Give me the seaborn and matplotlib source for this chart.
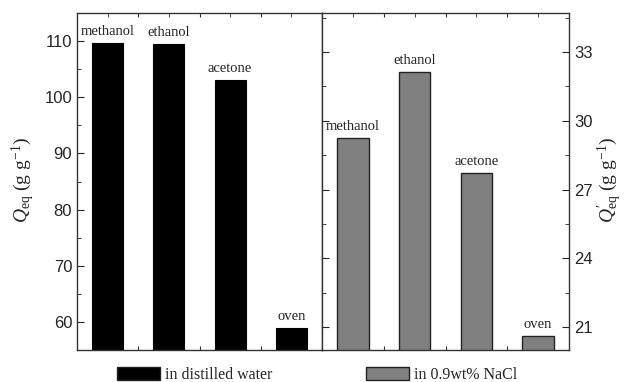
import numpy as np
import pandas as pd
import seaborn as sns
import matplotlib.pyplot as plt
from matplotlib.patches import Patch
from matplotlib.ticker import MultipleLocator, FixedLocator

# data
drying = ['methanol', 'ethanol', 'acetone', 'oven']
q_water = [109.6, 109.5, 103.0, 58.9]      # Q_eq in distilled water
q_saline = [29.23, 32.11, 27.72, 20.59]    # Q'_eq in 0.9wt% NaCl

sns.set_style('ticks')
plt.rcParams['font.family'] = ['Liberation Sans', 'DejaVu Sans']
plt.rcParams['mathtext.fontset'] = 'custom'
plt.rcParams['mathtext.rm'] = 'Liberation Serif'
plt.rcParams['mathtext.it'] = 'Liberation Serif:italic'

df_w = pd.DataFrame({'method': drying, 'Q': q_water})
df_s = pd.DataFrame({'method': drying, 'Q': q_saline})

fig = plt.figure(figsize=(6.36, 3.82), dpi=100)
ax1 = fig.add_axes([77/636, 32/382, 245/636, 337/382])
ax2 = fig.add_axes([322/636, 32/382, 247/636, 337/382])

sns.barplot(data=df_w, x='method', y='Q', ax=ax1, color='black',
            saturation=1, width=0.51, edgecolor='black', linewidth=0.8)
sns.barplot(data=df_s, x='method', y='Q', ax=ax2, color='#808080',
            saturation=1, width=0.51, edgecolor='#222222', linewidth=1.0)

serif = 'Liberation Serif'
for ax, vals in [(ax1, q_water), (ax2, q_saline)]:
    for i, v in enumerate(vals):
        ax.annotate(drying[i], (i, v), xytext=(0, 6), textcoords='offset points',
                    ha='center', va='baseline', family=serif, fontsize=10.5)

ax1.set_ylim(55, 115)
ax2.set_ylim(20, 34.7)
for ax in (ax1, ax2):
    ax.set_xlim(-0.5, 3.5)
    ax.set_xlabel('')
    ax.set_ylabel('')
    for s in ax.spines.values():
        s.set_visible(True)
        s.set_color('#333333')
        s.set_linewidth(1.0)
    ax.xaxis.set_major_locator(FixedLocator([0.5, 1.5, 2.5]))
    ax.xaxis.set_minor_locator(FixedLocator([0, 1, 2, 3]))
    ax.tick_params(axis='x', which='both', bottom=True, top=True,
                   labelbottom=False, direction='in', length=3, color='#333333')

ax1.yaxis.set_major_locator(MultipleLocator(10))
ax1.yaxis.set_minor_locator(MultipleLocator(5))
ax1.tick_params(axis='y', which='major', direction='in', length=5, labelsize=12, right=False)
ax1.tick_params(axis='y', which='minor', direction='in', length=3, right=False)

ax2.yaxis.set_major_locator(MultipleLocator(3))
ax2.yaxis.set_minor_locator(MultipleLocator(1.5))
ax2.yaxis.tick_right()
ax2.tick_params(axis='y', which='major', direction='in', length=5, labelsize=12,
                left=True, right=True, labelleft=False, labelright=True)
ax2.tick_params(axis='y', which='minor', direction='in', length=3, left=True, right=True)

fig.text(23/636, 0.53, r'$Q_{\rm eq}$ (g g$^{-1}$)', rotation=90, ha='center',
         va='center', family=serif, fontsize=14)
fig.text(610/636, 0.53, r"$Q^{\prime}_{\rm eq}$ (g g$^{-1}$)", rotation=90, ha='center',
         va='center', family=serif, fontsize=14)

# legends under the panels
for x0, lab, fc in [(117/636, 'in distilled water', 'black'),
                    (366/636, 'in 0.9wt% NaCl', '#808080')]:
    h = Patch(facecolor=fc, edgecolor='#222222', linewidth=1.0)
    fig.legend([h], [lab], loc='upper left', bbox_to_anchor=(x0, 15/382),
               frameon=False, borderpad=0, borderaxespad=0, handlelength=2.7,
               handleheight=0.9, handletextpad=0.3,
               prop={'family': serif, 'size': 11.5})

fig.savefig('out.png', dpi=100)
